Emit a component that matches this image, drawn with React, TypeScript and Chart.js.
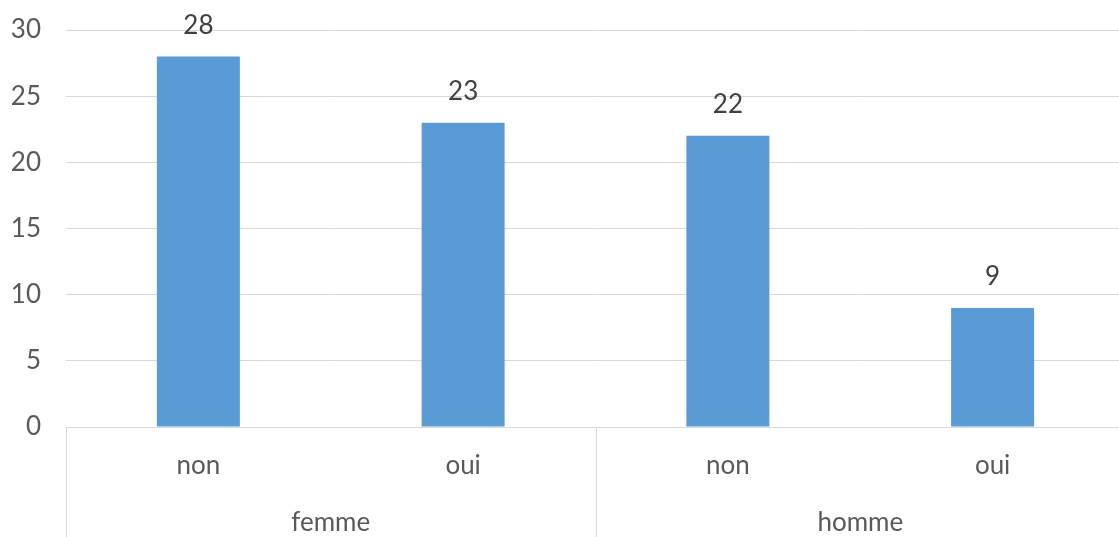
import React, { useEffect, useRef } from "react";
import { Chart, registerables } from "chart.js";

Chart.register(...registerables);

const categories = ["non", "oui", "non", "oui"];
const groups = ["femme", "homme"];
const values = [28, 23, 22, 9];
const yMin = 0;
const yMax = 30;
const yStep = 5;

const FONT = "Lato";
const TEXT = "#595959";
const GRID = "#D9D9D9";
const BAR = "#5B9BD5";
const FS = 26;

const overlayPlugin = {
  id: "overlay",
  afterDatasetsDraw(chart: any) {
    const ctx = chart.ctx;
    const meta = chart.getDatasetMeta(0);
    ctx.save();
    ctx.font = `${FS}px ${FONT}`;
    ctx.fillStyle = "#404040";
    ctx.textAlign = "center";
    ctx.textBaseline = "middle";
    meta.data.forEach((bar: any, i: number) => {
      ctx.fillText(String(values[i]), bar.x, bar.y - 31);
    });
    ctx.restore();
  },
  afterDraw(chart: any) {
    const ctx = chart.ctx;
    const xs = chart.scales.x;
    const bottom = chart.height;
    const top = chart.chartArea.bottom;
    const positions = [xs.getPixelForValue(-0.5), xs.getPixelForValue(1.5), xs.getPixelForValue(3.5)];
    ctx.save();
    ctx.strokeStyle = GRID;
    ctx.lineWidth = 1;
    positions.forEach((p: number) => {
      const px = Math.round(p) + 0.5;
      ctx.beginPath();
      ctx.moveTo(px, top);
      ctx.lineTo(px, bottom);
      ctx.stroke();
    });
    ctx.restore();
  },
};

export default function App() {
  const ref = useRef<HTMLCanvasElement | null>(null);
  useEffect(() => {
    if (!ref.current) return;
    const chart = new Chart(ref.current, {
      type: "bar",
      data: {
        labels: categories,
        datasets: [
          {
            data: values,
            backgroundColor: BAR,
            borderWidth: 0,
            barPercentage: 0.3135,
            categoryPercentage: 1,
          },
        ],
      },
      options: {
        responsive: false,
        animation: false,
        devicePixelRatio: 1,
        layout: { padding: { top: 30, right: 0, left: 0, bottom: 0 } },
        plugins: { legend: { display: false }, tooltip: { enabled: false } },
        scales: {
          y: {
            min: yMin,
            max: yMax,
            ticks: { stepSize: yStep, color: TEXT, font: { family: FONT, size: FS }, padding: 25 },
            grid: { color: GRID, drawTicks: false, lineWidth: 1 },
            border: { display: false },
            afterFit(scale: any) {
              scale.width = 66;
              scale.paddingTop = 0;
              scale.paddingBottom = 0;
            },
          },
          x: {
            type: "category",
            position: "bottom",
            offset: true,
            grid: { display: false, drawTicks: false, offset: true },
            border: { display: true, color: GRID },
            ticks: { color: TEXT, font: { family: FONT, size: FS }, padding: 23, maxRotation: 0, autoSkip: false },
            afterFit(scale: any) {
              scale.height = 62;
            },
          },
          x2: {
            type: "category",
            position: "bottom",
            labels: groups,
            offset: true,
            grid: { display: false, drawTicks: false },
            border: { display: false },
            ticks: { color: TEXT, font: { family: FONT, size: FS }, padding: 18, maxRotation: 0, autoSkip: false },
            afterFit(scale: any) {
              scale.height = 48;
            },
          },
        },
      } as any,
      plugins: [overlayPlugin],
    });
    return () => chart.destroy();
  }, []);
  return (
    <div style={{ position: "absolute", left: 0, top: 0, width: 1119, height: 537, overflow: "hidden", background: "#fff" }}>
      <canvas ref={ref} width={1125} height={537} style={{ display: "block", width: 1125, height: 537 }} />
    </div>
  );
}
